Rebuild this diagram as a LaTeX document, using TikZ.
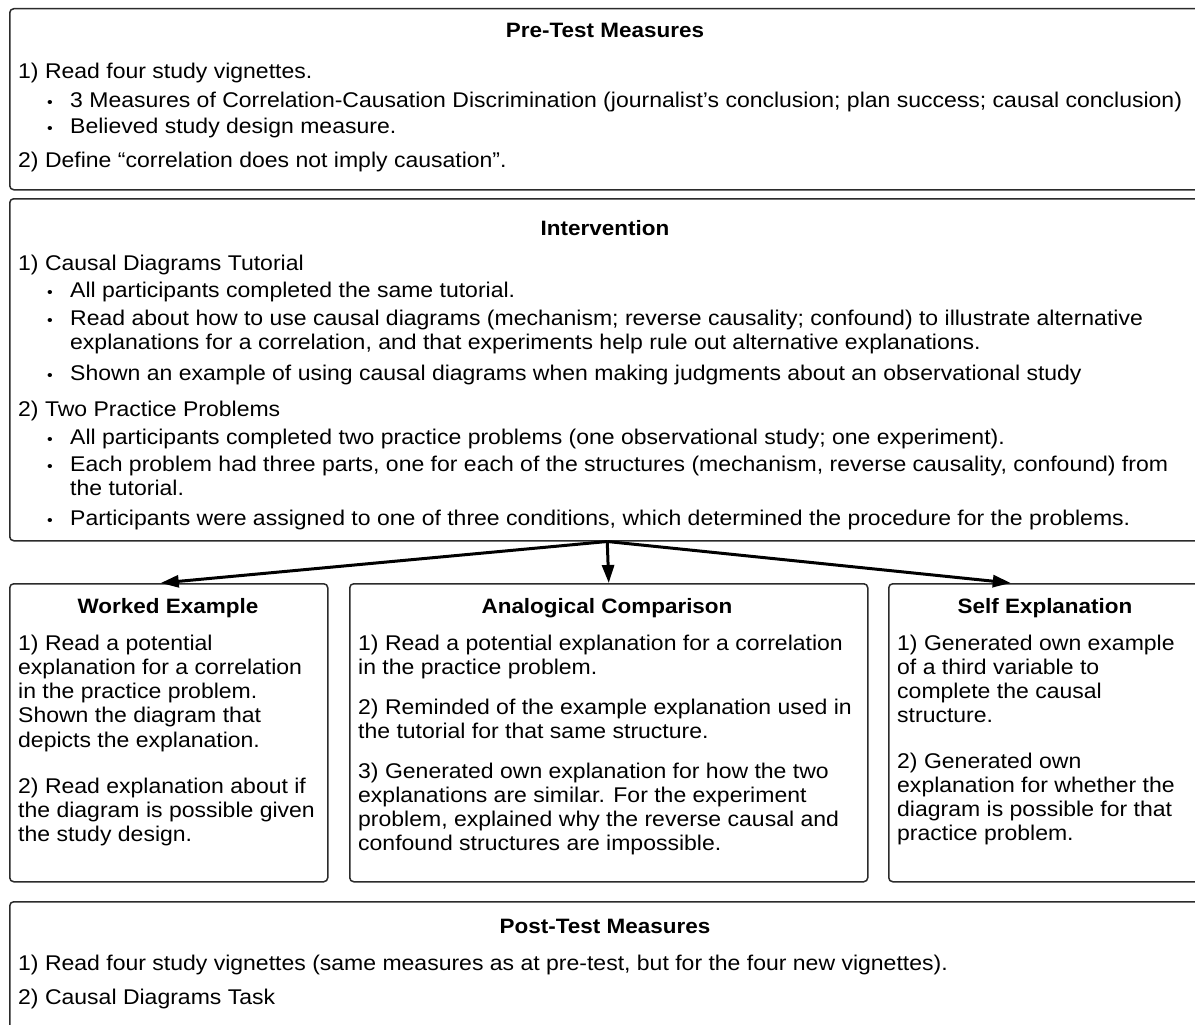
\documentclass[tikz,border=0pt]{standalone}
\usepackage{fontspec}
\setmainfont{Liberation Sans}[FakeStretch=1.08]
\usetikzlibrary{arrows.meta}
\definecolor{boxline}{HTML}{2B2B2B}
\tikzset{
  box/.style={draw=boxline, line width=1.5pt, rounded corners=4pt, rectangle, anchor=north west, inner sep=0pt},
  txt/.style={anchor=base west, inner sep=0pt, font=\fontsize{21.3}{24}\selectfont},
  ttl/.style={anchor=base, inner sep=0pt, font=\fontsize{20.8}{24}\selectfont\bfseries},
  bul/.style={anchor=base, inner sep=0pt, font=\fontsize{15}{15}\selectfont},
  flow/.style={line width=3pt, -{Triangle[length=18pt,width=12pt]}}
}
\begin{document}
\begin{tikzpicture}[x=1pt,y=-1pt]
\useasboundingbox (0,0) rectangle (1195,1025);
\clip (0,0) rectangle (1195,1025);
\fill[white] (0,0) rectangle (1195,1025);

% boxes
\node[box, minimum width=1195pt, minimum height=181pt] (pre) at (9,8) {};
\node[box, minimum width=1195pt, minimum height=342pt] (interv) at (9,198) {};
\node[box, minimum width=318pt, minimum height=298pt] (worked) at (9,583) {};
\node[box, minimum width=518pt, minimum height=298pt] (analog) at (349,583) {};
\node[box, minimum width=316pt, minimum height=298pt] (self) at (888,583) {};
\node[box, minimum width=1195pt, minimum height=160pt] (post) at (9,901) {};

% arrows
\coordinate (selftip) at ([xshift=-36pt]self.north);
\coordinate (workedtip) at ([xshift=-8pt]worked.north);
\draw[flow] (interv.south) -- (workedtip);
\draw[flow] (interv.south) -- (analog.north);
\draw[flow] (interv.south) -- (selftip);

% Pre-test
\node[ttl] (preT) at (605,38) {Pre-Test Measures};
\node[txt] (pre1) at (18,78) {1) Read four study vignettes.};
\node[bul] (preb1) at (50,107) {•};
\node[txt] (pre1a) at (70,107) {3 Measures of Correlation-Causation Discrimination (journalist’s conclusion; plan success; causal conclusion)};
\node[bul] (preb2) at (50,133) {•};
\node[txt] (pre1b) at (70,133) {Believed study design measure.};
\node[txt] (pre2) at (18,167) {2) Define “correlation does not imply causation”.};

% Intervention
\node[ttl] (intT) at (605,235) {Intervention};
\node[txt] (int1) at (18,270) {1) Causal Diagrams Tutorial};
\node[bul] (intb1) at (50,297) {•};
\node[txt] (int1a) at (70,297) {All participants completed the same tutorial.};
\node[bul] (intb2) at (50,325) {•};
\node[txt] (int1b) at (70,325) {Read about how to use causal diagrams (mechanism; reverse causality; confound) to illustrate alternative};
\node[txt] (int1b2) at (70,349) {explanations for a correlation, and that experiments help rule out alternative explanations.};
\node[bul] (intb3) at (50,380) {•};
\node[txt] (int1c) at (70,380) {Shown an example of using causal diagrams when making judgments about an observational study};
\node[txt] (int2) at (18,416) {2) Two Practice Problems};
\node[bul] (intb4) at (50,444) {•};
\node[txt] (int2a) at (70,444) {All participants completed two practice problems (one observational study; one experiment).};
\node[bul] (intb5) at (50,471) {•};
\node[txt] (int2b) at (70,471) {Each problem had three parts, one for each of the structures (mechanism, reverse causality, confound) from};
\node[txt] (int2b2) at (70,495) {the tutorial.};
\node[bul] (intb6) at (50,525) {•};
\node[txt] (int2c) at (70,525) {Participants were assigned to one of three conditions, which determined the procedure for the problems.};

% Worked example
\node[ttl] (wT) at (168,613) {Worked Example};
\node[txt] (w1) at (18,650) {1) Read a potential};
\node[txt] (w2) at (18,674) {explanation for a correlation};
\node[txt] (w3) at (18,698) {in the practice problem.};
\node[txt] (w4) at (18,722) {Shown the diagram that};
\node[txt] (w5) at (18,747) {depicts the explanation.};
\node[txt] (w6) at (18,793) {2) Read explanation about if};
\node[txt] (w7) at (18,817) {the diagram is possible given};
\node[txt] (w8) at (18,841) {the study design.};

% Analogical comparison
\node[ttl] (aT) at (607,613) {Analogical Comparison};
\node[txt] (a1) at (358,650) {1) Read a potential explanation for a correlation};
\node[txt] (a2) at (358,674) {in the practice problem.};
\node[txt] (a3) at (358,714) {2) Reminded of the example explanation used in};
\node[txt] (a4) at (358,738) {the tutorial for that same structure.};
\node[txt] (a5) at (358,778) {3) Generated own explanation for how the two};
\node[txt] (a6) at (358,802) {explanations are similar. For the experiment};
\node[txt] (a7) at (358,826) {problem, explained why the reverse causal and};
\node[txt] (a8) at (358,850) {confound structures are impossible.};

% Self explanation
\node[ttl] (sT) at (1045,613) {Self Explanation};
\node[txt] (s1) at (897,650) {1) Generated own example};
\node[txt] (s2) at (897,674) {of a third variable to};
\node[txt] (s3) at (897,698) {complete the causal};
\node[txt] (s4) at (897,722) {structure.};
\node[txt] (s5) at (897,768) {2) Generated own};
\node[txt] (s6) at (897,792) {explanation for whether the};
\node[txt] (s7) at (897,816) {diagram is possible for that};
\node[txt] (s8) at (897,840) {practice problem.};

% Post-test
\node[ttl] (postT) at (605,933) {Post-Test Measures};
\node[txt] (post1) at (18,970) {1) Read four study vignettes (same measures as at pre-test, but for the four new vignettes).};
\node[txt] (post2) at (18,1004) {2) Causal Diagrams Task};
\end{tikzpicture}
\end{document}
